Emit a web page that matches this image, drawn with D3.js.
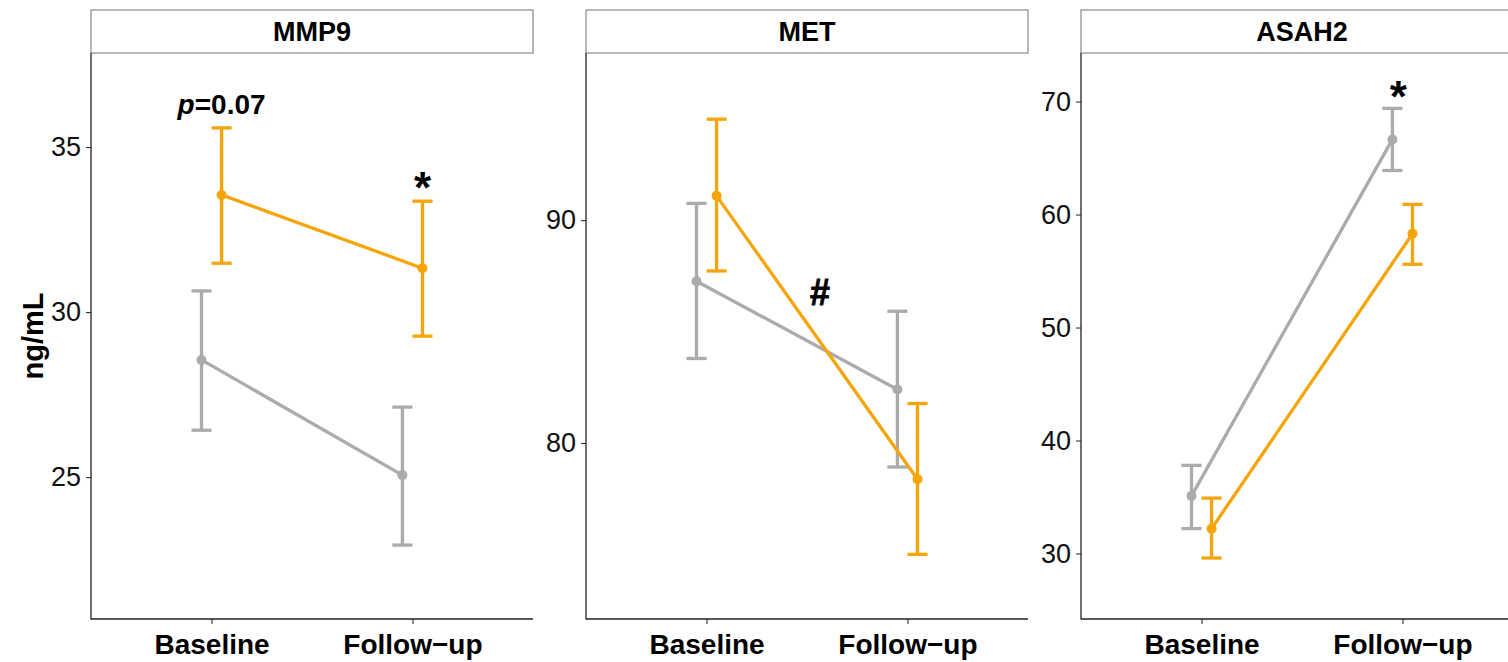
<!DOCTYPE html>
<html>
<head>
<meta charset="utf-8">
<script src="https://cdn.jsdelivr.net/npm/d3@7"></script>
<style>
  html, body { margin: 0; padding: 0; background: #fff; }
  svg { display: block; font-family: "Liberation Sans", Arial, sans-serif; }
</style>
</head>
<body>
<svg id="chart" width="1508" height="662"></svg>
<script>
// ---------- data ----------
const timepoints = ["Baseline", "Follow\u2212up"];
const panelNames = ["MMP9", "MET", "ASAH2"];

// gray group (mean, lower, upper)
const mmp9Gray   = [28.55, 25.06];
const mmp9GrayLo = [26.42, 22.94];
const mmp9GrayHi = [30.64, 27.12];
// orange group
const mmp9Orange   = [33.55, 31.33];
const mmp9OrangeLo = [31.48, 29.27];
const mmp9OrangeHi = [35.58, 33.36];

const metGray   = [87.26, 82.40];
const metGrayLo = [83.79, 78.92];
const metGrayHi = [90.75, 85.91];
const metOrange   = [91.09, 78.37];
const metOrangeLo = [87.72, 75.00];
const metOrangeHi = [94.53, 81.77];

const asahGray   = [35.1, 66.65];
const asahGrayLo = [32.2, 63.9];
const asahGrayHi = [37.8, 69.4];
const asahOrange   = [32.2, 58.3];
const asahOrangeLo = [29.6, 55.6];
const asahOrangeHi = [34.9, 60.9];

const yDomains = [[20.7, 37.85], [72.1, 97.5], [24.2, 74.3]];
const yTicks = [[25, 30, 35], [80, 90], [30, 40, 50, 60, 70]];

// annotations: [panel, x (category units), y (data units), text]
const annotations = [
  {panel: 0, x: 1.05, y: 36.0, text: "p=0.07", italicP: true},
  {panel: 0, x: 2.05, y: 34.06, text: "*"},
  {panel: 1, x: 1.565, y: 86.75, text: "#"},
  {panel: 2, x: 1.98, y: 71.3, text: "*"}
];

const panelData = [
  {gray: [mmp9Gray, mmp9GrayLo, mmp9GrayHi], orange: [mmp9Orange, mmp9OrangeLo, mmp9OrangeHi]},
  {gray: [metGray, metGrayLo, metGrayHi], orange: [metOrange, metOrangeLo, metOrangeHi]},
  {gray: [asahGray, asahGrayLo, asahGrayHi], orange: [asahOrange, asahOrangeLo, asahOrangeHi]}
];

// ---------- layout ----------
const colors = {gray: "#ABABAB", orange: "#F5A50A"};
const dodge = {gray: -0.05, orange: 0.05};
const panelLeft = [91, 586, 1081];
const panelW = 442;
const plotTop = 53, plotBottom = 619;
const stripTop = 10;

const svg = d3.select("#chart");

panelNames.forEach((name, pi) => {
  const g = svg.append("g").attr("transform", `translate(${panelLeft[pi]},0)`);
  const x = d3.scaleLinear().domain([0.4, 2.6]).range([0, panelW]);
  const y = d3.scaleLinear().domain(yDomains[pi]).range([plotBottom, plotTop]);

  // strip
  g.append("rect").attr("x", 0).attr("y", stripTop)
    .attr("width", panelW).attr("height", plotTop - stripTop)
    .attr("fill", "#fff").attr("stroke", "#7f7f7f").attr("stroke-width", 1.1);
  g.append("text").attr("x", panelW / 2).attr("y", (stripTop + plotTop) / 2 + 9.5)
    .attr("text-anchor", "middle").attr("font-weight", "bold").attr("font-size", 27)
    .attr("fill", "#000").text(name);

  // y axis
  const yAxis = g.append("g").call(d3.axisLeft(y).tickValues(yTicks[pi]).tickSize(5).tickPadding(5));
  yAxis.select(".domain").remove();
  yAxis.selectAll(".tick line").attr("stroke", "#333").attr("stroke-width", 1.1);
  yAxis.selectAll(".tick text").attr("font-size", 27).attr("fill", "#111")
    .attr("font-family", "Liberation Sans, Arial, sans-serif");

  // x axis
  const xAxis = g.append("g").attr("transform", `translate(0,${plotBottom})`)
    .call(d3.axisBottom(x).tickValues([1, 2]).tickFormat((d, i) => timepoints[i]).tickSize(5).tickPadding(8));
  xAxis.select(".domain").remove();
  xAxis.selectAll(".tick line").attr("stroke", "#333").attr("stroke-width", 1.1);
  xAxis.selectAll(".tick text").attr("font-size", 28).attr("font-weight", "bold").attr("fill", "#000")
    .attr("font-family", "Liberation Sans, Arial, sans-serif").attr("dy", "0.8em");

  // axis lines
  g.append("line").attr("x1", 0).attr("x2", 0).attr("y1", plotTop).attr("y2", plotBottom + 0.6)
    .attr("stroke", "#222").attr("stroke-width", 1.3);
  g.append("line").attr("x1", 0).attr("x2", panelW).attr("y1", plotBottom).attr("y2", plotBottom)
    .attr("stroke", "#222").attr("stroke-width", 1.3);

  // series
  ["gray", "orange"].forEach(key => {
    const [m, lo, hi] = panelData[pi][key];
    const pts = m.map((v, i) => ({xv: i + 1 + dodge[key], v, lo: lo[i], hi: hi[i]}));
    const col = colors[key];
    const sg = g.append("g");
    sg.append("path").datum(pts)
      .attr("d", d3.line().x(d => x(d.xv)).y(d => y(d.v)))
      .attr("fill", "none").attr("stroke", col).attr("stroke-width", 3.3);
    sg.selectAll(".eb").data(pts).enter().append("line")
      .attr("x1", d => x(d.xv)).attr("x2", d => x(d.xv))
      .attr("y1", d => y(d.lo)).attr("y2", d => y(d.hi))
      .attr("stroke", col).attr("stroke-width", 3.3);
    ["lo", "hi"].forEach(k => {
      sg.selectAll(".cap" + k).data(pts).enter().append("line")
        .attr("x1", d => x(d.xv - 0.05)).attr("x2", d => x(d.xv + 0.05))
        .attr("y1", d => y(d[k])).attr("y2", d => y(d[k]))
        .attr("stroke", col).attr("stroke-width", 3.3);
    });
    sg.selectAll("circle").data(pts).enter().append("circle")
      .attr("cx", d => x(d.xv)).attr("cy", d => y(d.v)).attr("r", 5)
      .attr("fill", col);
  });

  // annotations
  annotations.filter(a => a.panel === pi).forEach(a => {
    const t = g.append("text").attr("x", x(a.x)).attr("y", y(a.y))
      .attr("text-anchor", "middle").attr("font-weight", "bold").attr("fill", "#000");
    if (a.italicP) {
      t.attr("font-size", 28);
      t.append("tspan").attr("font-style", "italic").text("p");
      t.append("tspan").text(a.text.slice(1));
    } else if (a.text === "*") {
      t.attr("font-size", 44).attr("dy", "0.56em").text(a.text);
    } else {
      t.attr("font-size", 36).attr("dy", "0.35em").attr("stroke", "#000").attr("stroke-width", 0.8).text(a.text);
    }
  });
});

// y label
svg.append("text").attr("transform", `translate(43,${(plotTop + plotBottom) / 2}) rotate(-90)`)
  .attr("text-anchor", "middle").attr("font-weight", "bold").attr("font-size", 29).attr("fill", "#000")
  .text("ng/mL");
</script>
</body>
</html>
